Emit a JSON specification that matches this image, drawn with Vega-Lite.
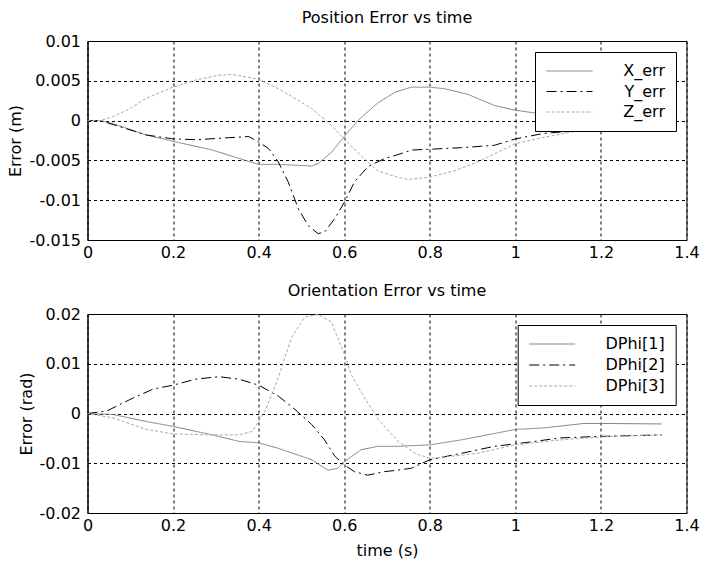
{
  "$schema": "https://vega.github.io/schema/vega-lite/v6.json",
  "padding": {"left": 6.5, "top": 9, "right": 0, "bottom": 3},
  "spacing": 21,
  "resolve": {"scale": {"stroke": "independent", "strokeDash": "independent"}, "legend": {"stroke": "independent", "strokeDash": "independent"}},
  "config": {
    "font": "DejaVu Sans",
    "view": {"stroke": "black", "strokeWidth": 1},
    "axis": {
      "grid": true, "gridColor": "black", "gridDash": [3, 3], "gridOpacity": 1, "gridWidth": 1,
      "domainColor": "black", "ticks": false,
      "labelFontSize": 16, "labelColor": "black", "labelFont": "DejaVu Sans",
      "titleFontSize": 16, "titleFontWeight": "normal", "titleColor": "black", "titleFont": "DejaVu Sans"
    },
    "axisX": {"labelPadding": 4, "titlePadding": 9, "labelFlush": false, "labelOverlap": false},
    "axisY": {"labelPadding": 7, "titlePadding": 5},
    "title": {"fontSize": 16, "fontWeight": "normal", "color": "black", "offset": 7, "font": "DejaVu Sans"},
    "legend": {
      "orient": "none", "symbolType": "stroke", "symbolSize": 2116, "symbolStrokeWidth": 1,
      "labelAlign": "right", "labelFontSize": 16, "labelColor": "black", "labelFont": "DejaVu Sans",
      "clipHeight": 16, "padding": 11,
      "strokeColor": "black", "fillColor": "white"
    }
  },
  "vconcat": [
    {
      "title": "Position Error vs time",
      "width": 599,
      "height": 199,
      "data": {"values": [
        {"s": "X_err", "t": 0, "v": 0}, {"s": "X_err", "t": 0.03, "v": 0}, {"s": "X_err", "t": 0.06, "v": -0.0004},
        {"s": "X_err", "t": 0.099, "v": -0.0011}, {"s": "X_err", "t": 0.137, "v": -0.0018}, {"s": "X_err", "t": 0.2, "v": -0.0026},
        {"s": "X_err", "t": 0.292, "v": -0.0037}, {"s": "X_err", "t": 0.369, "v": -0.005}, {"s": "X_err", "t": 0.4, "v": -0.0055},
        {"s": "X_err", "t": 0.446, "v": -0.0055}, {"s": "X_err", "t": 0.524, "v": -0.0057}, {"s": "X_err", "t": 0.539, "v": -0.0054},
        {"s": "X_err", "t": 0.57, "v": -0.004}, {"s": "X_err", "t": 0.6, "v": -0.002}, {"s": "X_err", "t": 0.632, "v": 0},
        {"s": "X_err", "t": 0.678, "v": 0.0022}, {"s": "X_err", "t": 0.72, "v": 0.0036}, {"s": "X_err", "t": 0.757, "v": 0.0042},
        {"s": "X_err", "t": 0.8, "v": 0.0042}, {"s": "X_err", "t": 0.835, "v": 0.004}, {"s": "X_err", "t": 0.889, "v": 0.0033},
        {"s": "X_err", "t": 0.951, "v": 0.0019}, {"s": "X_err", "t": 1.0, "v": 0.0013}, {"s": "X_err", "t": 1.04, "v": 0.001},
        {"s": "X_err", "t": 1.1, "v": 0.0008}, {"s": "X_err", "t": 1.2, "v": 0.0005}, {"s": "X_err", "t": 1.34, "v": 0.0003},

        {"s": "Y_err", "t": 0, "v": 0}, {"s": "Y_err", "t": 0.03, "v": 0}, {"s": "Y_err", "t": 0.06, "v": -0.0005},
        {"s": "Y_err", "t": 0.137, "v": -0.0018}, {"s": "Y_err", "t": 0.2, "v": -0.0023}, {"s": "Y_err", "t": 0.253, "v": -0.0024},
        {"s": "Y_err", "t": 0.315, "v": -0.0022}, {"s": "Y_err", "t": 0.377, "v": -0.002}, {"s": "Y_err", "t": 0.4, "v": -0.0027},
        {"s": "Y_err", "t": 0.423, "v": -0.0035}, {"s": "Y_err", "t": 0.446, "v": -0.0052}, {"s": "Y_err", "t": 0.469, "v": -0.0077},
        {"s": "Y_err", "t": 0.493, "v": -0.0111}, {"s": "Y_err", "t": 0.516, "v": -0.0132}, {"s": "Y_err", "t": 0.539, "v": -0.0142},
        {"s": "Y_err", "t": 0.554, "v": -0.014}, {"s": "Y_err", "t": 0.578, "v": -0.0123}, {"s": "Y_err", "t": 0.6, "v": -0.0103},
        {"s": "Y_err", "t": 0.624, "v": -0.0077}, {"s": "Y_err", "t": 0.655, "v": -0.0058}, {"s": "Y_err", "t": 0.693, "v": -0.0048},
        {"s": "Y_err", "t": 0.724, "v": -0.0043}, {"s": "Y_err", "t": 0.757, "v": -0.0037}, {"s": "Y_err", "t": 0.8, "v": -0.0036},
        {"s": "Y_err", "t": 0.874, "v": -0.0034}, {"s": "Y_err", "t": 0.951, "v": -0.0031}, {"s": "Y_err", "t": 1.0, "v": -0.0023},
        {"s": "Y_err", "t": 1.067, "v": -0.0016}, {"s": "Y_err", "t": 1.144, "v": -0.0013}, {"s": "Y_err", "t": 1.22, "v": -0.0011},
        {"s": "Y_err", "t": 1.34, "v": -0.0009},

        {"s": "Z_err", "t": 0, "v": 0}, {"s": "Z_err", "t": 0.029, "v": 0}, {"s": "Z_err", "t": 0.06, "v": 0.0005},
        {"s": "Z_err", "t": 0.099, "v": 0.0015}, {"s": "Z_err", "t": 0.137, "v": 0.0028}, {"s": "Z_err", "t": 0.2, "v": 0.0042},
        {"s": "Z_err", "t": 0.253, "v": 0.0051}, {"s": "Z_err", "t": 0.307, "v": 0.0057}, {"s": "Z_err", "t": 0.338, "v": 0.0058},
        {"s": "Z_err", "t": 0.4, "v": 0.0052}, {"s": "Z_err", "t": 0.446, "v": 0.004}, {"s": "Z_err", "t": 0.485, "v": 0.0028},
        {"s": "Z_err", "t": 0.524, "v": 0.0015}, {"s": "Z_err", "t": 0.562, "v": -0.0002}, {"s": "Z_err", "t": 0.6, "v": -0.0023},
        {"s": "Z_err", "t": 0.639, "v": -0.0044}, {"s": "Z_err", "t": 0.678, "v": -0.0063}, {"s": "Z_err", "t": 0.724, "v": -0.0071},
        {"s": "Z_err", "t": 0.75, "v": -0.0074}, {"s": "Z_err", "t": 0.8, "v": -0.0071}, {"s": "Z_err", "t": 0.858, "v": -0.0063},
        {"s": "Z_err", "t": 0.912, "v": -0.0052}, {"s": "Z_err", "t": 1.0, "v": -0.0029}, {"s": "Z_err", "t": 1.067, "v": -0.0021},
        {"s": "Z_err", "t": 1.144, "v": -0.0013}, {"s": "Z_err", "t": 1.22, "v": -0.001}, {"s": "Z_err", "t": 1.34, "v": -0.0008}
      ]},
      "mark": {"type": "line", "strokeWidth": 1},
      "encoding": {
        "x": {"field": "t", "type": "quantitative", "scale": {"domain": [0, 1.4], "nice": false},
              "axis": {"values": [0, 0.2, 0.4, 0.6, 0.8, 1, 1.2, 1.4], "labelExpr": "'' + datum.value", "title": null}},
        "y": {"field": "v", "type": "quantitative", "scale": {"domain": [-0.015, 0.01], "nice": false},
              "axis": {"values": [-0.015, -0.01, -0.005, 0, 0.005, 0.01], "labelExpr": "'' + datum.value", "title": "Error (m)"}},
        "stroke": {"field": "s", "type": "nominal",
                   "scale": {"domain": ["X_err", "Y_err", "Z_err"], "range": ["#7f7f7f", "#000000", "#a8a8a8"]},
                   "legend": {"title": null, "legendX": 447.5, "legendY": 11, "labelOffset": 72, "rowPadding": 4.5}},
        "strokeDash": {"field": "s", "type": "nominal",
                   "scale": {"domain": ["X_err", "Y_err", "Z_err"], "range": [[1, 0], [10, 4, 2, 4], [3, 2]]},
                   "legend": {"title": null, "legendX": 447.5, "legendY": 11, "labelOffset": 72, "rowPadding": 4.5}}
      }
    },
    {
      "title": "Orientation Error vs time",
      "width": 599,
      "height": 199,
      "data": {"values": [
        {"s": "DPhi[1]", "t": 0, "v": 0}, {"s": "DPhi[1]", "t": 0.06, "v": -0.0002}, {"s": "DPhi[1]", "t": 0.137, "v": -0.0016},
        {"s": "DPhi[1]", "t": 0.2, "v": -0.0026}, {"s": "DPhi[1]", "t": 0.292, "v": -0.0043}, {"s": "DPhi[1]", "t": 0.354, "v": -0.0056},
        {"s": "DPhi[1]", "t": 0.4, "v": -0.0059}, {"s": "DPhi[1]", "t": 0.446, "v": -0.007}, {"s": "DPhi[1]", "t": 0.524, "v": -0.0093},
        {"s": "DPhi[1]", "t": 0.562, "v": -0.0114}, {"s": "DPhi[1]", "t": 0.585, "v": -0.011}, {"s": "DPhi[1]", "t": 0.6, "v": -0.0097},
        {"s": "DPhi[1]", "t": 0.639, "v": -0.0073}, {"s": "DPhi[1]", "t": 0.678, "v": -0.0066}, {"s": "DPhi[1]", "t": 0.724, "v": -0.0066},
        {"s": "DPhi[1]", "t": 0.8, "v": -0.0063}, {"s": "DPhi[1]", "t": 0.874, "v": -0.0053}, {"s": "DPhi[1]", "t": 1.0, "v": -0.0032},
        {"s": "DPhi[1]", "t": 1.067, "v": -0.0029}, {"s": "DPhi[1]", "t": 1.16, "v": -0.002}, {"s": "DPhi[1]", "t": 1.2, "v": -0.002},
        {"s": "DPhi[1]", "t": 1.342, "v": -0.0021},

        {"s": "DPhi[2]", "t": 0, "v": 0}, {"s": "DPhi[2]", "t": 0.045, "v": 0.0005}, {"s": "DPhi[2]", "t": 0.099, "v": 0.0028},
        {"s": "DPhi[2]", "t": 0.153, "v": 0.0049}, {"s": "DPhi[2]", "t": 0.2, "v": 0.0057}, {"s": "DPhi[2]", "t": 0.253, "v": 0.0069},
        {"s": "DPhi[2]", "t": 0.307, "v": 0.0074}, {"s": "DPhi[2]", "t": 0.354, "v": 0.0069}, {"s": "DPhi[2]", "t": 0.4, "v": 0.0057},
        {"s": "DPhi[2]", "t": 0.446, "v": 0.0035}, {"s": "DPhi[2]", "t": 0.485, "v": 0.0008}, {"s": "DPhi[2]", "t": 0.524, "v": -0.0022},
        {"s": "DPhi[2]", "t": 0.554, "v": -0.0053}, {"s": "DPhi[2]", "t": 0.578, "v": -0.0086}, {"s": "DPhi[2]", "t": 0.6, "v": -0.0103},
        {"s": "DPhi[2]", "t": 0.624, "v": -0.0117}, {"s": "DPhi[2]", "t": 0.655, "v": -0.0124}, {"s": "DPhi[2]", "t": 0.693, "v": -0.0117},
        {"s": "DPhi[2]", "t": 0.724, "v": -0.0114}, {"s": "DPhi[2]", "t": 0.757, "v": -0.011}, {"s": "DPhi[2]", "t": 0.8, "v": -0.0093},
        {"s": "DPhi[2]", "t": 0.874, "v": -0.008}, {"s": "DPhi[2]", "t": 0.951, "v": -0.0066}, {"s": "DPhi[2]", "t": 1.028, "v": -0.0058},
        {"s": "DPhi[2]", "t": 1.106, "v": -0.0049}, {"s": "DPhi[2]", "t": 1.2, "v": -0.0046}, {"s": "DPhi[2]", "t": 1.342, "v": -0.0043},

        {"s": "DPhi[3]", "t": 0, "v": 0}, {"s": "DPhi[3]", "t": 0.06, "v": -0.0009}, {"s": "DPhi[3]", "t": 0.137, "v": -0.0032},
        {"s": "DPhi[3]", "t": 0.2, "v": -0.0041}, {"s": "DPhi[3]", "t": 0.292, "v": -0.0043}, {"s": "DPhi[3]", "t": 0.354, "v": -0.0043},
        {"s": "DPhi[3]", "t": 0.385, "v": -0.0036}, {"s": "DPhi[3]", "t": 0.415, "v": 0.0005}, {"s": "DPhi[3]", "t": 0.446, "v": 0.0072},
        {"s": "DPhi[3]", "t": 0.477, "v": 0.0153}, {"s": "DPhi[3]", "t": 0.508, "v": 0.0194}, {"s": "DPhi[3]", "t": 0.539, "v": 0.0199},
        {"s": "DPhi[3]", "t": 0.57, "v": 0.0184}, {"s": "DPhi[3]", "t": 0.6, "v": 0.012}, {"s": "DPhi[3]", "t": 0.616, "v": 0.0079},
        {"s": "DPhi[3]", "t": 0.647, "v": 0.0032}, {"s": "DPhi[3]", "t": 0.68, "v": -0.0012}, {"s": "DPhi[3]", "t": 0.726, "v": -0.0056},
        {"s": "DPhi[3]", "t": 0.765, "v": -0.008}, {"s": "DPhi[3]", "t": 0.8, "v": -0.009}, {"s": "DPhi[3]", "t": 0.85, "v": -0.0086},
        {"s": "DPhi[3]", "t": 0.912, "v": -0.008}, {"s": "DPhi[3]", "t": 1.0, "v": -0.0063}, {"s": "DPhi[3]", "t": 1.106, "v": -0.0053},
        {"s": "DPhi[3]", "t": 1.222, "v": -0.0046}, {"s": "DPhi[3]", "t": 1.342, "v": -0.0043}
      ]},
      "mark": {"type": "line", "strokeWidth": 1},
      "encoding": {
        "x": {"field": "t", "type": "quantitative", "scale": {"domain": [0, 1.4], "nice": false},
              "axis": {"values": [0, 0.2, 0.4, 0.6, 0.8, 1, 1.2, 1.4], "labelExpr": "'' + datum.value", "title": "time (s)"}},
        "y": {"field": "v", "type": "quantitative", "scale": {"domain": [-0.02, 0.02], "nice": false},
              "axis": {"values": [-0.02, -0.01, 0, 0.01, 0.02], "labelExpr": "'' + datum.value", "title": "Error (rad)"}},
        "stroke": {"field": "s", "type": "nominal",
                   "scale": {"domain": ["DPhi[1]", "DPhi[2]", "DPhi[3]"], "range": ["#7f7f7f", "#000000", "#a8a8a8"]},
                   "legend": {"title": null, "legendX": 430.2, "legendY": 11, "labelOffset": 89, "rowPadding": 5}},
        "strokeDash": {"field": "s", "type": "nominal",
                   "scale": {"domain": ["DPhi[1]", "DPhi[2]", "DPhi[3]"], "range": [[1, 0], [10, 4, 2, 4], [3, 2]]},
                   "legend": {"title": null, "legendX": 430.2, "legendY": 11, "labelOffset": 89, "rowPadding": 5}}
      }
    }
  ]
}
